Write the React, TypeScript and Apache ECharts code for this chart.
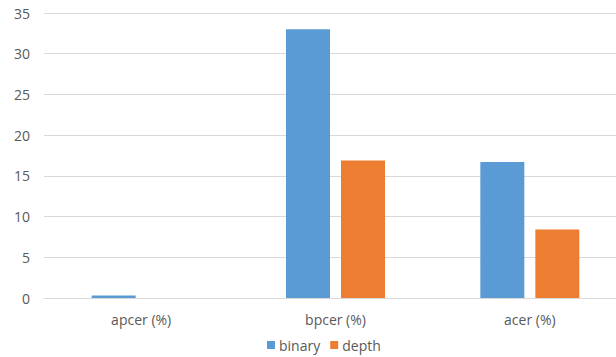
import React, { useEffect, useRef } from "react";
import * as echarts from "echarts";

const categories = ["apcer (%)", "bpcer (%)", "acer (%)"];
const binaryValues = [0.3, 33.0, 16.7];
const depthValues = [0, 16.9, 8.4];
const yTicks = [0, 5, 10, 15, 20, 25, 30, 35];

export default function App() {
  const ref = useRef<HTMLDivElement>(null);
  useEffect(() => {
    if (!ref.current) return;
    const chart = echarts.init(ref.current, null, { renderer: "svg" });
    const font = "Open Sans";
    chart.setOption({
      animation: false,
      textStyle: { fontFamily: font },
      grid: {
        left: 44,
        width: 583,
        top: 13,
        bottom: 59,
        containLabel: false,
        outerBoundsMode: "none",
      },
      legend: {
        bottom: 0,
        left: 262,
        itemWidth: 8,
        itemHeight: 8,
        itemGap: 10,
        icon: "rect",
        textStyle: { color: "#595959", fontSize: 14, fontFamily: font, padding: [0, 0, 0, -1] },
        data: ["binary", "depth"],
      },
      xAxis: {
        type: "category",
        data: categories,
        axisLine: { lineStyle: { color: "#d9d9d9" } },
        axisTick: { show: false },
        axisLabel: { color: "#595959", fontSize: 14, fontFamily: font, margin: 14 },
      },
      yAxis: {
        type: "value",
        min: yTicks[0],
        max: yTicks[yTicks.length - 1],
        interval: 5,
        axisLine: { show: false },
        axisTick: { show: false },
        splitLine: { lineStyle: { color: "#d9d9d9" } },
        axisLabel: { color: "#595959", fontSize: 14, fontFamily: font, margin: 14 },
      },
      series: [
        {
          name: "binary",
          type: "bar",
          data: binaryValues,
          barWidth: 44,
          barGap: "25%",
          itemStyle: { color: "#5b9bd5" },
        },
        {
          name: "depth",
          type: "bar",
          data: depthValues,
          barWidth: 44,
          itemStyle: { color: "#ed7d31" },
        },
      ],
    });
    return () => chart.dispose();
  }, []);
  return (
    <div
      ref={ref}
      style={{ position: "absolute", left: 0, top: 0, width: 616, height: 357, overflow: "hidden" }}
    />
  );
}
